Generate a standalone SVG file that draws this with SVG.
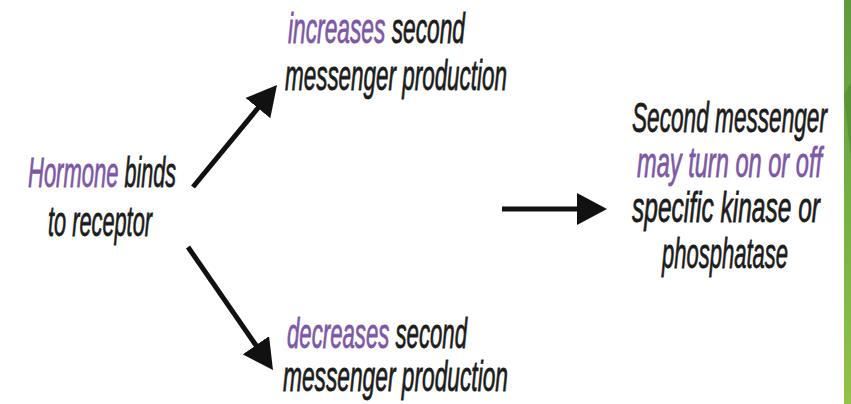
<svg xmlns="http://www.w3.org/2000/svg" width="851" height="404" viewBox="0 0 851 404">
<defs>
<style>
text{font-family:"Liberation Sans",Arial,sans-serif;font-style:italic;font-size:42px;fill:#1c1c1c;stroke:#1c1c1c;stroke-width:0.8}
.p{fill:#7d58a6;stroke:#7d58a6}
.c{stroke:#111;stroke-width:5;fill:none;stroke-linecap:butt}
</style>
<marker id="ah" markerUnits="userSpaceOnUse" viewBox="0 0 30 32" refX="10" refY="16" markerWidth="30" markerHeight="32" orient="auto">
<path d="M0,0 L30,16 L0,32 Z" fill="#111"/>
</marker>
<linearGradient id="gb" x1="0" y1="0" x2="0" y2="1">
<stop offset="0" stop-color="#5f9b3e"/>
<stop offset="0.5" stop-color="#74b043"/>
<stop offset="1" stop-color="#94c24a"/>
</linearGradient>
</defs>
<rect width="851" height="404" fill="#fff"/>
<g id="sidebar">
<rect x="844" y="0" width="7" height="404" fill="url(#gb)"/>
<polygon points="844,95 851,82 851,160" fill="#4f8a30" opacity="0.6"/>
</g>
<g id="connectors">
<line class="c" x1="193" y1="187" x2="264.3" y2="100.4" marker-end="url(#ah)"/>
<line class="c" x1="188" y1="247" x2="261.6" y2="353.5" marker-end="url(#ah)"/>
<line class="c" x1="502" y1="209" x2="587" y2="209" marker-end="url(#ah)"/>
</g>
<g id="hormone">
<text class="p" transform="translate(28,187) scale(0.55,1)" textLength="164.4" lengthAdjust="spacingAndGlyphs">Hormone</text>
<text transform="translate(124.5,187) scale(0.55,1)" textLength="93.6" lengthAdjust="spacingAndGlyphs">binds</text>
<text transform="translate(48,236) scale(0.55,1)" textLength="189.1" lengthAdjust="spacingAndGlyphs">to receptor</text>
</g>
<g id="increases">
<text class="p" transform="translate(288,43) scale(0.55,1)" textLength="176.9" lengthAdjust="spacingAndGlyphs">increases</text>
<text transform="translate(391.7,43) scale(0.55,1)" textLength="133.3" lengthAdjust="spacingAndGlyphs">second</text>
<text transform="translate(285,90) scale(0.55,1)" textLength="403.6" lengthAdjust="spacingAndGlyphs">messenger production</text>
</g>
<g id="decreases">
<text class="p" transform="translate(287,348) scale(0.55,1)" textLength="186" lengthAdjust="spacingAndGlyphs">decreases</text>
<text transform="translate(395.5,348) scale(0.55,1)" textLength="130" lengthAdjust="spacingAndGlyphs">second</text>
<text transform="translate(283,391) scale(0.55,1)" textLength="409.1" lengthAdjust="spacingAndGlyphs">messenger production</text>
</g>
<g id="second-messenger">
<text transform="translate(632,132) scale(0.55,1)" textLength="354.5" lengthAdjust="spacingAndGlyphs">Second messenger</text>
<text class="p" transform="translate(637,177) scale(0.55,1)" textLength="336.4" lengthAdjust="spacingAndGlyphs">may turn on or off</text>
<text transform="translate(632,222) scale(0.55,1)" textLength="341.8" lengthAdjust="spacingAndGlyphs">specific kinase or</text>
<text transform="translate(662,268) scale(0.55,1)" textLength="229.1" lengthAdjust="spacingAndGlyphs">phosphatase</text>
</g>
</svg>
